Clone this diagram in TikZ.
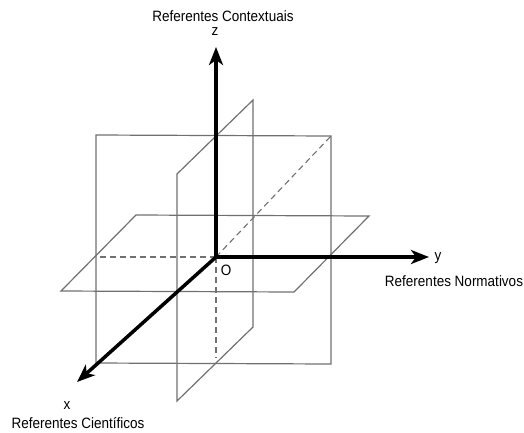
\documentclass[tikz,border=0pt]{standalone}
\usepackage{fontspec}
\setmainfont[FakeStretch=0.9]{Liberation Sans}
\usetikzlibrary{arrows.meta,positioning,calc}
\definecolor{colPlan}{RGB}{112,112,112}
\begin{document}
\begin{tikzpicture}[x=1pt,y=-1pt,font=\fontsize{15}{17}\selectfont,
    plan/.style={draw=colPlan, line width=1.2pt, line join=miter},
    cache/.style={colPlan, line width=1.1pt, dash pattern=on 6pt off 4pt},
    axe/.style={-{Stealth[length=18pt,width=14pt,inset=5pt]}, line width=3.5pt, black},
    lbl/.style={inner sep=0pt, align=center}]
    \useasboundingbox (0,0) rectangle (524,432);
    % origine et bouts des axes
    \coordinate (O) at (216,257);
    \coordinate (zfin) at (216,47);
    \coordinate (yfin) at (429,257);
    \coordinate (xfin) at (77,382);
    % plan yz
    \coordinate (a1) at (96,135);
    \coordinate (a2) at (331,136);
    \coordinate (a3) at (331,364);
    \coordinate (a4) at (96,363);
    % plan xz
    \coordinate (b1) at (253,100);
    \coordinate (b2) at (253,327);
    \coordinate (b3) at (177,401);
    \coordinate (b4) at (177,174);
    % plan xy
    \coordinate (c1) at (136,215);
    \coordinate (c2) at (369,216);
    \coordinate (c3) at (294,292);
    \coordinate (c4) at (61,291);
    % bouts des pointilles
    \coordinate (d1) at (96,257);
    \coordinate (d2) at (216,358);
    \draw[plan] (a1)--(a2)--(a3)--(a4)--cycle;
    \draw[plan] (b1)--(b2)--(b3)--(b4)--cycle;
    \draw[plan] (c1)--(c2)--(c3)--(c4)--cycle;
    \draw[cache] (O)--(a2);
    \draw[cache] (O)--(d1);
    \draw[cache] (O)--(d2);
    \draw[axe] (O)--(zfin);
    \draw[axe] (O)--(yfin);
    \draw[axe] (O)--(xfin);
    \node[lbl] (lO) at (226,270) {O};
    \node[lbl] (lz) at (215,32) {z};
    \node[lbl] (ly) at (438,258) {y};
    \node[lbl] (lx) at (67,406) {x};
    \node[lbl] (tz) at (223,16) {Referentes Contextuais};
    \node[lbl] (ty) at (454,281) {Referentes Normativos};
    \node[lbl] (tx) at (78,423) {Referentes Científicos};
\end{tikzpicture}
\end{document}
